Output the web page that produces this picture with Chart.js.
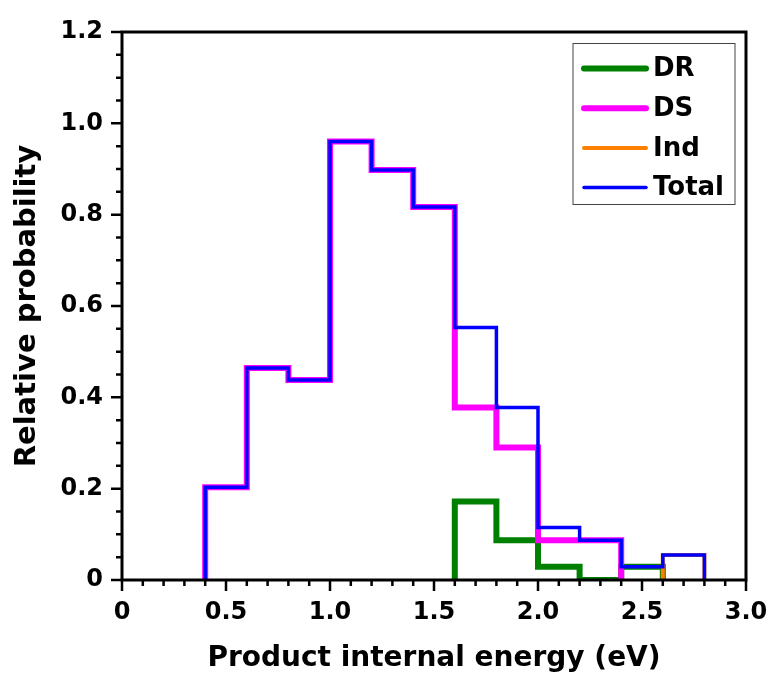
<!doctype html>
<html>
<head>
<meta charset="UTF-8">
<title>Product internal energy</title>
<script src="https://cdn.jsdelivr.net/npm/chart.js@4.4.0/dist/chart.umd.min.js"></script>
<style>
  body { margin: 0; background: #fff; }
</style>
</head>
<body>
<canvas id="canvas" width="771" height="677"></canvas>
<script>
// bin edges in eV (bins are 0.2 eV wide)
var binEdges = [0.4, 0.6, 0.8, 1.0, 1.2, 1.4, 1.6, 1.8, 2.0, 2.2, 2.4, 2.6, 2.8];
// one value per bin, null = bin not part of the curve
var drProb    = [null, null, null, null, null, null, 0.172, 0.087, 0.029, 0, 0.029, null];
var dsProb    = [0.203, 0.464, 0.438, 0.960, 0.898, 0.817, 0.378, 0.290, 0.087, 0.087, null, null];
var indProb   = [null, null, null, null, null, null, null, null, null, null, null, 0.055];
var totalProb = [0.203, 0.464, 0.438, 0.960, 0.898, 0.817, 0.553, 0.378, 0.115, 0.087, 0.029, 0.055];

var seriesNames = ['DR', 'DS', 'Ind', 'Total'];
var xTicks = [0, 0.5, 1.0, 1.5, 2.0, 2.5, 3.0];
var yTicks = [0, 0.2, 0.4, 0.6, 0.8, 1.0, 1.2];

// turn per-bin values into points for a stepped line (starts and ends on zero)
function histPoints(vals) {
  var first = -1, last = -1;
  for (var i = 0; i < vals.length; i++) {
    if (vals[i] !== null) {
      if (first < 0) first = i;
      last = i;
    }
  }
  var pts = [{x: binEdges[first], y: 0}];
  for (var k = first; k <= last; k++) {
    pts.push({x: binEdges[k], y: vals[k]});
  }
  pts.push({x: binEdges[last + 1], y: 0});
  return pts;
}

function tickLabel(v) {
  return v === 0 ? '0' : Number(v).toFixed(1);
}

var framePlugin = {
  id: 'frame',
  afterDatasetsDraw: function(chart) {
    var ctx = chart.ctx;
    var a = chart.chartArea;
    var xs = chart.scales.x, ys = chart.scales.y;
    ctx.save();
    ctx.strokeStyle = '#000';
    ctx.lineWidth = 3;
    ctx.strokeRect(a.left, a.top, a.right - a.left, a.bottom - a.top);

    // major + minor ticks, outward
    ctx.lineWidth = 2.5;
    ctx.beginPath();
    for (var i = 0; i <= 30; i++) {
      var px = xs.getPixelForValue(i / 10);
      var len = (i % 5 === 0) ? 11 : 6;
      ctx.moveTo(px, a.bottom);
      ctx.lineTo(px, a.bottom + len);
    }
    for (var j = 0; j <= 24; j++) {
      var py = ys.getPixelForValue(j / 20);
      var len2 = (j % 4 === 0) ? 11 : 6;
      ctx.moveTo(a.left, py);
      ctx.lineTo(a.left - len2, py);
    }
    ctx.stroke();

    // legend box
    var bx = a.right - 173, by = a.top + 11.5;
    ctx.lineWidth = 1;
    ctx.strokeStyle = '#444';
    ctx.strokeRect(bx, by, 162, 161);
    ctx.font = 'bold 26px "DejaVu Sans"';
    ctx.textBaseline = 'middle';
    ctx.fillStyle = '#000';
    chart.data.datasets.forEach(function(ds, n) {
      var ry = by + 25 + n * 39.7;
      ctx.strokeStyle = ds.borderColor;
      ctx.lineWidth = ds.borderWidth;
      ctx.lineCap = 'round';
      ctx.beginPath();
      ctx.moveTo(bx + 11, ry);
      ctx.lineTo(bx + 73, ry);
      ctx.stroke();
      ctx.fillText(ds.label, bx + 80, ry + 1);
    });
    ctx.restore();
  }
};

Chart.defaults.font.family = '"DejaVu Sans"';
Chart.defaults.font.weight = 'bold';
Chart.defaults.color = '#000';

var ctx = document.getElementById('canvas').getContext('2d');
window.myChart = new Chart(ctx, {
  type: 'line',
  data: {
    datasets: [{
      label: seriesNames[0],
      data: histPoints(drProb),
      borderColor: '#008000',
      borderWidth: 6,
      order: 4
    }, {
      label: seriesNames[1],
      data: histPoints(dsProb),
      borderColor: '#ff00ff',
      borderWidth: 6,
      order: 3
    }, {
      label: seriesNames[2],
      data: histPoints(indProb),
      borderColor: '#ff8000',
      borderWidth: 4,
      order: 2
    }, {
      label: seriesNames[3],
      data: histPoints(totalProb),
      borderColor: '#0000ff',
      borderWidth: 3.5,
      order: 1
    }]
  },
  options: {
    responsive: false,
    animation: false,
    events: [],
    elements: {
      point: { radius: 0 },
      line: { stepped: true, borderJoinStyle: 'miter', fill: false }
    },
    layout: { padding: { top: 32, right: 25, bottom: 0, left: 0 } },
    plugins: {
      legend: { display: false },
      tooltip: { enabled: false }
    },
    scales: {
      x: {
        type: 'linear',
        min: 0,
        max: 3,
        grid: { display: false, drawTicks: false },
        border: { display: false },
        afterBuildTicks: function(s) { s.ticks = xTicks.map(function(v) { return {value: v}; }); },
        afterFit: function(s) { s.height = 97; s.paddingLeft = 0; s.paddingRight = 0; },
        ticks: {
          padding: 18,
          maxRotation: 0,
          font: { size: 24, weight: 'bold' },
          callback: tickLabel
        },
        title: {
          display: true,
          text: 'Product internal energy (eV)',
          font: { size: 28, weight: 'bold' },
          padding: { top: 2, bottom: 1 }
        }
      },
      y: {
        type: 'linear',
        min: 0,
        max: 1.2,
        grid: { display: false, drawTicks: false },
        border: { display: false },
        afterBuildTicks: function(s) { s.ticks = yTicks.map(function(v) { return {value: v}; }); },
        afterFit: function(s) { s.width = 122; s.paddingTop = 0; s.paddingBottom = 0; },
        ticks: {
          padding: 19,
          font: { size: 24, weight: 'bold' },
          callback: tickLabel
        },
        title: {
          display: true,
          text: 'Relative probability',
          font: { size: 29, weight: 'bold' },
          padding: { top: 10, bottom: 10 }
        }
      }
    }
  },
  plugins: [framePlugin]
});
</script>
</body>
</html>
